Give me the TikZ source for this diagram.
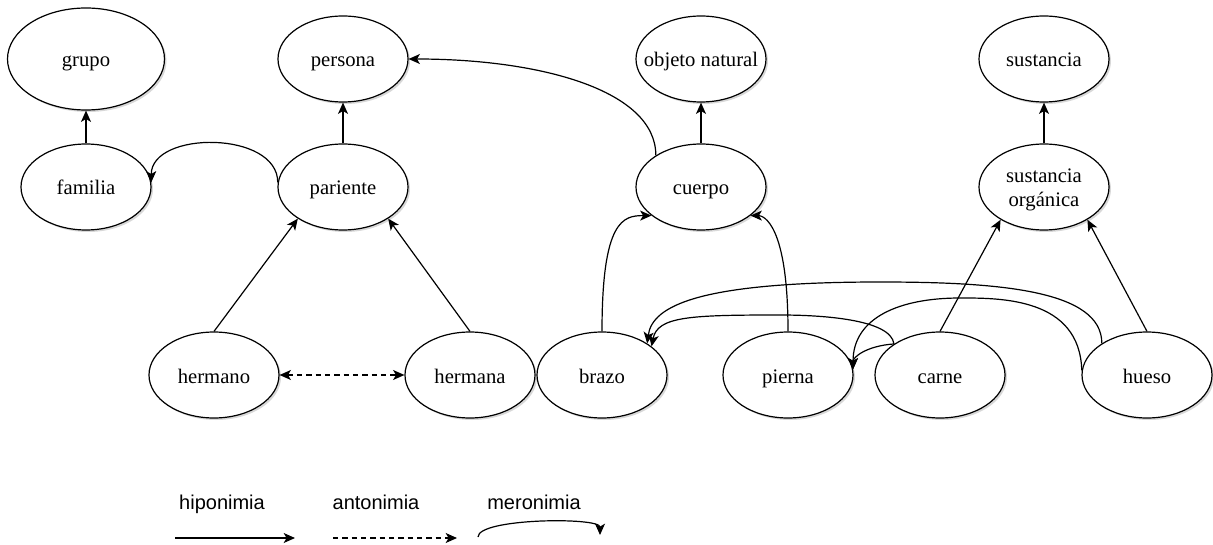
\documentclass[tikz,border=0pt]{standalone}
\usepackage{fontspec}
\setmainfont{Liberation Serif}
\newfontfamily\legendfont{Liberation Sans}
\usetikzlibrary{arrows.meta,shapes.geometric,shadows}

\begin{document}
\begin{tikzpicture}[x=0.75pt,y=-0.75pt,
  >={Stealth[length=8.5pt,width=7.5pt,inset=2.2pt]},
  ellbase/.style={ellipse, draw=black, line width=0.9pt, fill=white,
    minimum width=97.5pt, minimum height=64.5pt, inner sep=0pt,
    font=\fontsize{15.5}{17.5}\selectfont, align=center,
    drop shadow={shadow xshift=1.5pt, shadow yshift=-1.5pt, opacity=0.25, fill=black!60}},
  concept/.style={ellbase, text height=12pt, text depth=0pt},
  bigconcept/.style={concept, minimum width=117.75pt, minimum height=76.5pt},
  twoline/.style={font=\fontsize{15.5}{17.5}\selectfont, align=center, inner sep=0pt},
  hypo/.style={->, line width=0.9pt},
  anto/.style={line width=0.9pt, dash pattern=on 4pt off 3pt},
  mero/.style={->, line width=0.9pt},
  legend/.style={font=\legendfont\fontsize{15}{18}\selectfont, anchor=base}]

\fill[white] (0,0) rectangle (1213,545);
\useasboundingbox (0,0) rectangle (1213,545);

% concepts, top row
\node[bigconcept] (grupo)     at (86,59)   {grupo};
\node[concept]    (persona)   at (343,59)  {persona};
\node[concept]    (objeto)    at (701,59)  {\makebox[0pt]{objeto natural}};
\node[concept]    (sustancia) at (1044,59) {sustancia};

% second row
\node[concept] (familia)  at (86,187)   {familia};
\node[concept] (pariente) at (343,187)  {pariente};
\node[concept] (cuerpo)   at (701,187)  {cuerpo};
\node[ellbase] (sustorg)  at (1044,187) {};
\node[twoline] (sustorgtext) at (1044,190) {sustancia\\orgánica};

% bottom row
\node[concept] (hermano) at (214,375)  {hermano};
\node[concept] (hermana) at (470,375)  {hermana};
\node[concept] (brazo)   at (602,375)  {brazo};
\node[concept] (pierna)  at (788,375)  {pierna};
\node[concept] (carne)   at (940,375)  {carne};
\node[concept] (hueso)   at (1147,375) {hueso};

% hyponymy
\draw[hypo] (familia.north) -- (grupo.south);
\draw[hypo] (pariente.north) -- (persona.south);
\draw[hypo] (cuerpo.north) -- (objeto.south);
\draw[hypo] (sustorg.north) -- (sustancia.south);
\draw[hypo] (hermano.north) -- (pariente.215);
\draw[hypo] (hermana.north) -- (pariente.-35);
\draw[hypo] (carne.north) -- (sustorg.-143);
\draw[hypo] (hueso.north) -- (sustorg.-37);

% antonymy
\draw[anto,<->] (hermano.east) -- (hermana.west);

% meronymy
\draw[mero] (pariente.176) .. controls +(0,-52) and +(0,-52) .. (familia.4);
\draw[mero] (cuerpo.145) .. controls +(0,-65) and +(132,0) .. (persona.east);
\draw[mero] (brazo.north) .. controls +(0,-112) and +(-28,0) .. (cuerpo.210);
\draw[mero] (pierna.north) .. controls +(0,-107) and +(13,0) .. (cuerpo.-30);

\coordinate (wa) at (880,282);
\coordinate (wb) at (960,298);
\coordinate (wc) at (780,315);
\draw[mero] (hueso.145) .. controls +(0,-53) and +(120,0) .. (wa)
            .. controls +(-180,0) and +(5,-38) .. (brazo.35);
\draw[mero] (hueso.176) .. controls +(-2,-73) and +(40,0) .. (wb)
            .. controls +(-60,0) and +(0,-52) .. (pierna.5);
\draw[mero] (carne.146) .. controls +(-3,-25) and +(40,0) .. (wc)
            .. controls +(-90,0) and +(6,-30) .. (brazo.30);
\draw[mero] (carne.146) .. controls +(-28,2) and +(0,-12) .. (pierna.5);

% legend
\node[legend] (lh) at (222,509) {hiponimia};
\node[legend] (la) at (376,509) {antonimia};
\node[legend] (lm) at (534,509) {meronimia};

\coordinate (h1) at (175,538);
\coordinate (h2) at (295,538);
\coordinate (a1) at (333,538);
\coordinate (a2) at (457,538);
\coordinate (m1) at (478,537);
\coordinate (m2) at (600,535);
\draw[hypo] (h1) -- (h2);
\draw[anto,->] (a1) -- (a2);
\draw[mero] (m1) .. controls +(0,-19) and +(0,-18) .. (m2);
\end{tikzpicture}
\end{document}
